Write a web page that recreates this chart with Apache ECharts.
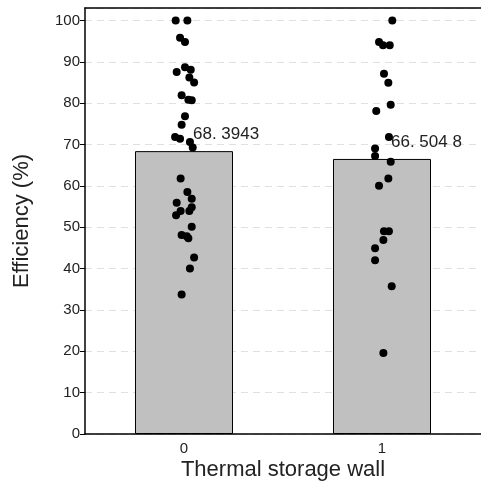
<!DOCTYPE html>
<html>
<head>
<meta charset="utf-8">
<script src="https://cdn.jsdelivr.net/npm/echarts@6/dist/echarts.min.js"></script>
<style>
html,body{margin:0;padding:0;background:#fff;}
#chart{width:481px;height:488px;}
</style>
</head>
<body>
<div id="chart"></div>
<script>
const categories = ['0', '1'];
const barMeans = [68.3943, 66.5048];
const barLabels = ['68. 3943', '66. 504 8'];
const yTicks = [0, 10, 20, 30, 40, 50, 60, 70, 80, 90, 100];

// group 0 points: x position (category units, jittered) and efficiency
const g0X = [-0.042, 0.017, -0.020, 0.005, 0.005, -0.037, 0.034, 0.027, 0.051, -0.012, 0.022, 0.039, 0.005, -0.012, -0.045, -0.020, 0.030, 0.044, -0.017, 0.017, 0.039, -0.037, 0.039, 0.027, -0.017, -0.040, 0.039, -0.012, 0.014, 0.022, 0.051, 0.030, -0.012];
const g0Y = [100, 100, 95.8, 94.8, 88.7, 87.5, 88.1, 86.2, 85.0, 81.9, 80.8, 80.7, 76.8, 74.8, 71.8, 71.4, 70.6, 69.3, 61.8, 58.5, 56.9, 55.9, 54.8, 53.9, 53.9, 52.9, 50.1, 48.1, 47.8, 47.3, 42.7, 40.0, 33.7];

// group 1 points
const g1X = [1.052, 0.985, 1.005, 1.039, 1.010, 1.032, 1.044, 0.971, 1.035, 0.965, 0.965, 1.044, 1.032, 0.985, 1.010, 1.035, 1.007, 0.965, 0.965, 1.049, 1.007];
const g1Y = [100, 94.8, 94.0, 94.0, 87.1, 84.9, 79.6, 78.1, 71.8, 69.0, 67.2, 65.8, 61.8, 60.0, 49.0, 49.0, 46.9, 44.9, 42.0, 35.7, 19.6];

const pts = [];
g0X.forEach((x, i) => pts.push([x, g0Y[i]]));
g1X.forEach((x, i) => pts.push([x, g1Y[i]]));

const FONT = '"Liberation Sans", Arial, sans-serif';
const chart = echarts.init(document.getElementById('chart'), null, {renderer: 'canvas'});
chart.setOption({
  animation: false,
  backgroundColor: '#fff',
  grid: {left: 85, right: 0, top: 8, bottom: 54, containLabel: false, outerBoundsMode: 'none'},
  xAxis: [{
    type: 'category',
    data: categories,
    position: 'bottom',
    axisLine: {onZero: false, lineStyle: {color: '#000', width: 1.5}},
    axisTick: {alignWithLabel: true, length: 5, lineStyle: {color: '#000'}},
    axisLabel: {color: '#222', fontSize: 15, fontFamily: FONT, margin: 7},
    name: 'Thermal storage wall',
    nameLocation: 'middle',
    nameGap: 25,
    nameMoveOverlap: false,
    nameTextStyle: {color: '#222', fontSize: 22, fontFamily: FONT}
  }, {
    type: 'value',
    min: -0.5, max: 1.5,
    position: 'top',
    axisLine: {show: true, onZero: false, lineStyle: {color: '#000', width: 1.5}},
    axisTick: {show: false},
    axisLabel: {show: false},
    splitLine: {show: false}
  }],
  yAxis: {
    type: 'value',
    min: 0, max: 103, interval: 10,
    axisLine: {show: true, onZero: false, lineStyle: {color: '#000', width: 1.5}},
    axisTick: {show: true, length: 5, lineStyle: {color: '#000'}},
    axisLabel: {color: '#222', fontSize: 15, fontFamily: FONT, margin: 5, showMaxLabel: false,
      formatter: v => (yTicks.indexOf(v) >= 0 ? String(v) : '')},
    splitLine: {show: true, lineStyle: {color: '#e0e0e0', type: [7, 5], width: 1}},
    name: 'Efficiency (%)',
    nameLocation: 'middle',
    nameGap: 52,
    nameMoveOverlap: false,
    nameTextStyle: {color: '#222', fontSize: 22, fontFamily: FONT}
  },
  series: [{
    type: 'bar',
    xAxisIndex: 0,
    data: barMeans,
    barWidth: '49.5%',
    itemStyle: {color: '#c0c0c0', borderColor: '#000', borderWidth: 1},
    label: {
      show: true,
      position: [58, -17],
      align: 'left',
      verticalAlign: 'middle',
      color: '#222',
      fontSize: 17,
      fontFamily: FONT,
      formatter: p => barLabels[p.dataIndex]
    },
    z: 2
  }, {
    type: 'scatter',
    xAxisIndex: 1,
    data: pts,
    symbolSize: 8,
    itemStyle: {color: '#000', opacity: 1},
    z: 3
  }]
});
</script>
</body>
</html>
